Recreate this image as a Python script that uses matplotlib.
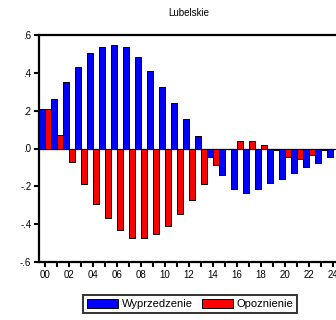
import numpy as np
import matplotlib
matplotlib.use("Agg")
from matplotlib import pyplot as plt

plt.rcParams['font.family'] = ['Liberation Sans', 'DejaVu Sans']

# Data ##################################################################
lags = np.arange(0, 25)
wyprzedzenie = [0.21, 0.263, 0.349, 0.432, 0.507, 0.535, 0.549, 0.535, 0.484,
                0.41, 0.325, 0.24, 0.158, 0.065, -0.044, -0.139, -0.212,
                -0.233, -0.212, -0.181, -0.16, -0.128, -0.096, -0.075, -0.044]
opoznienie = [0.21, 0.074, -0.074, -0.189, -0.295, -0.368, -0.432, -0.474,
              -0.474, -0.453, -0.41, -0.347, -0.274, -0.19, -0.086, -0.002,
              0.039, 0.039, 0.019, -0.01, -0.044, -0.054, -0.033, -0.01, -0.005]
yticks = [-0.6, -0.4, -0.2, 0.0, 0.2, 0.4, 0.6]
ylabels = ['-.6', '-.4', '-.2', '.0', '.2', '.4', '.6']

# Figure ################################################################
fig = plt.figure(figsize=(3.36, 3.2), dpi=100)
ax = fig.add_axes([39/336, 58/320, 300/336, 227/320])

ax.axhline(0, color='#555555', lw=1.0, zorder=1)
ax.bar(lags - 0.25, wyprzedzenie, width=0.5, color='#0000FF',
       edgecolor='black', lw=0.7, label='Wyprzedzenie', zorder=2)
ax.bar(lags + 0.25, opoznienie, width=0.5, color='#FF0000',
       edgecolor='black', lw=0.7, label='Opoznienie', zorder=2)

ax.set_xlim(-0.5, 24.5)
ax.set_ylim(-0.6, 0.6)
ax.set_yticks(yticks)
ax.set_yticklabels(ylabels)
ax.set_xticks(lags)
# label every second lag
ax.set_xticklabels(['%02d' % i if i % 2 == 0 else '' for i in lags])
ax.tick_params(direction='out', length=3.5, width=1.5, labelsize=7, pad=2)
for s in ax.spines.values():
    s.set_linewidth(1.6)
ax.spines['right'].set_visible(False)

ax.set_title('Lubelskie', fontsize=7, pad=14)

leg = fig.legend(loc='center', bbox_to_anchor=(190/336, 16/320), ncol=2,
                 fontsize=8, frameon=True, fancybox=False,
                 handlelength=2.8, handleheight=0.9, handletextpad=0.3,
                 columnspacing=0.8, borderpad=0.35, borderaxespad=0)
leg.get_frame().set_edgecolor('black')
leg.get_frame().set_linewidth(1.4)

fig.savefig('out.png', dpi=100)
